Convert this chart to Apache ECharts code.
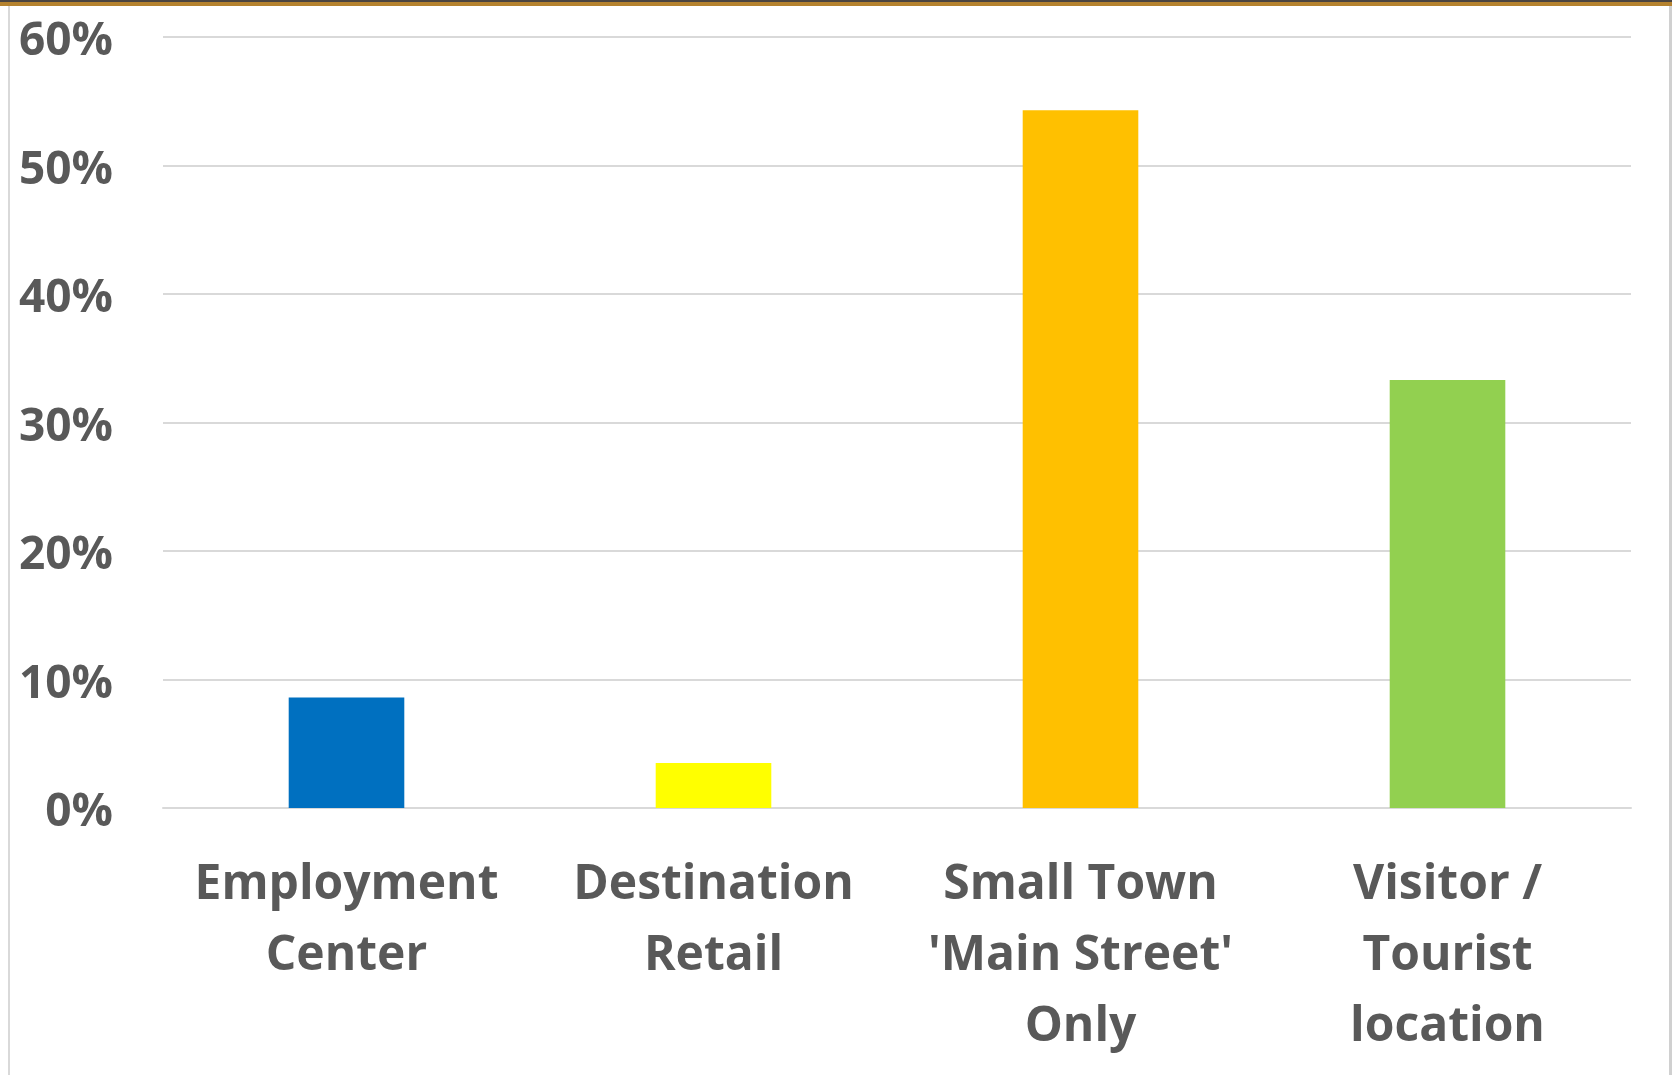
<!DOCTYPE html>
<html>
<head>
<meta charset="utf-8">
<script src="https://cdn.jsdelivr.net/npm/echarts@6/dist/echarts.min.js"></script>
<style>
  html, body { margin: 0; padding: 0; background: #fff; }
  #frame { position: relative; width: 1672px; height: 1075px; overflow: hidden; }
  #topDark { position: absolute; left: 0; top: 0; width: 1672px; height: 2px; background: #4a4440; }
  #topGold { position: absolute; left: 0; top: 2px; width: 1672px; height: 4px; background: #b5822e; }
  #leftLine { position: absolute; left: 8px; top: 6px; width: 2px; height: 1069px; background: #d9d9d9; }
  #rightLine { position: absolute; left: 1669px; top: 6px; width: 3px; height: 1069px; background: #d0d0d0; }
  #chart { position: absolute; left: 0; top: 0; width: 1672px; height: 1075px; }
</style>
</head>
<body>
<div id="frame">
  <div id="chart"></div>
  <div id="topDark"></div>
  <div id="topGold"></div>
  <div id="leftLine"></div>
  <div id="rightLine"></div>
</div>
<script>
  // categories (line breaks as wrapped in the original)
  const categories = [
    'Employment\nCenter',
    'Destination\nRetail',
    "Small Town\n'Main Street'\nOnly",
    'Visitor /\nTourist\nlocation',
  ];
  const shares = [8.6, 3.5, 54.3, 33.3];
  const barColors = ['#0070c0', '#ffff00', '#ffc000', '#92d050'];
  const yTicks = [0, 10, 20, 30, 40, 50, 60];

  const labelFont = "'Open Sans', sans-serif";

  const myChart = echarts.init(document.getElementById('chart'));
  myChart.setOption({
    animation: false,
    grid: {
      left: 163,
      right: 41,
      top: 37,
      bottom: 267,
    },
    xAxis: {
      type: 'category',
      data: categories,
      axisLine: { show: true, lineStyle: { color: '#d9d9d9', width: 2 } },
      axisTick: { show: false },
      axisLabel: {
        interval: 0,
        margin: 42,
        color: '#595959',
        fontFamily: labelFont,
        fontWeight: 'bold',
        fontSize: 48,
        lineHeight: 71,
      },
    },
    yAxis: {
      type: 'value',
      min: yTicks[0],
      max: yTicks[yTicks.length - 1],
      interval: 10,
      axisLine: { show: false },
      axisTick: { show: false },
      splitLine: { lineStyle: { color: '#d9d9d9', width: 2 } },
      axisLabel: {
        margin: 50,
        formatter: (v) => '{p|' + v + '%}',
        rich: {
          p: {
            color: '#595959',
            fontFamily: labelFont,
            fontWeight: 'bold',
            fontSize: 46,
            lineHeight: 56,
            verticalAlign: 'bottom',
          },
        },
      },
    },
    series: [
      {
        type: 'bar',
        barWidth: '31.5%',
        data: shares.map((v, i) => ({ value: v, itemStyle: { color: barColors[i] } })),
      },
    ],
  });
</script>
</body>
</html>
